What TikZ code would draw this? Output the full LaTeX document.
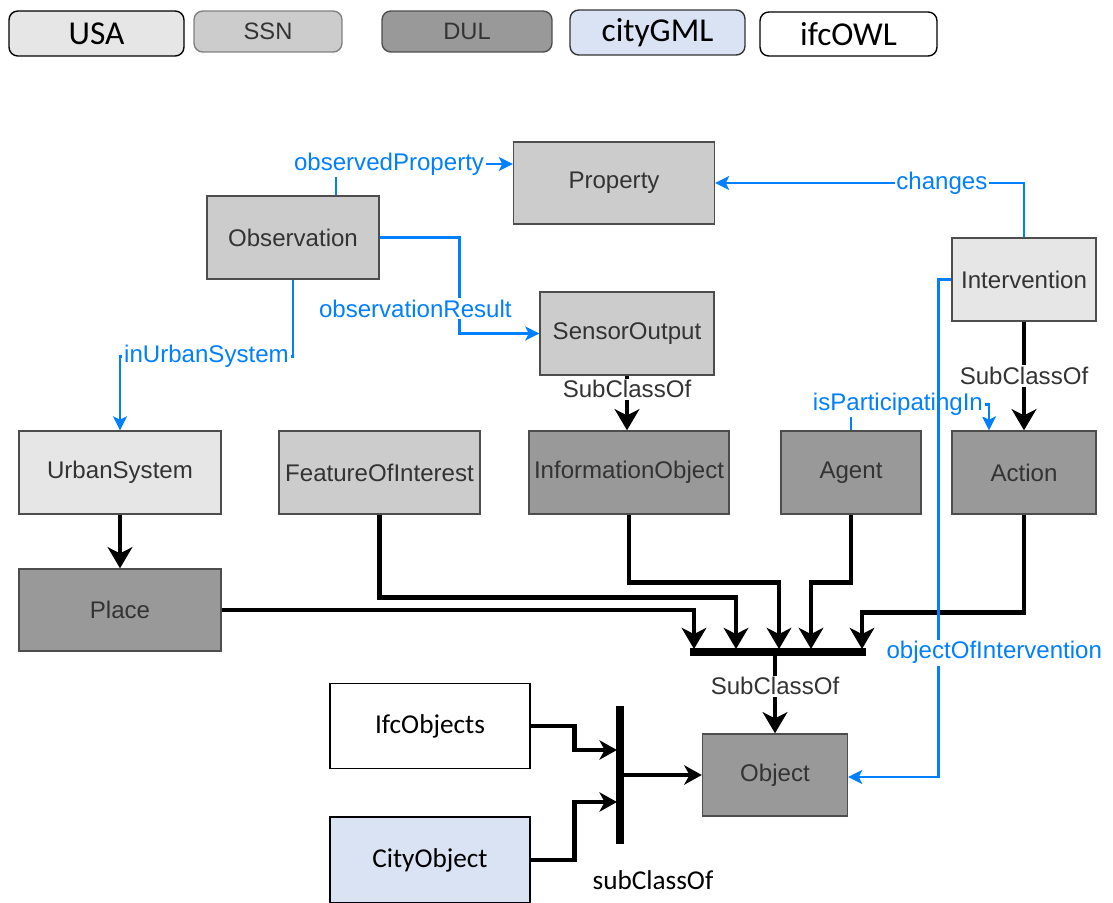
\documentclass[tikz,border=0pt]{standalone}
\usepackage{fontspec}
\setmainfont{Liberation Sans}
\newfontfamily\carlito{Carlito}
\usetikzlibrary{arrows.meta}

\definecolor{relblue}{RGB}{0,127,255}
\definecolor{usafill}{HTML}{E6E6E6}
\definecolor{ssnfill}{HTML}{CCCCCC}
\definecolor{dulfill}{HTML}{999999}
\definecolor{gmlfill}{HTML}{DAE3F3}
\definecolor{boxline}{HTML}{4D4D4D}
\definecolor{boxtext}{HTML}{333333}

\tikzset{
  cls/.style={draw=boxline, line width=0.8pt, text=boxtext, inner sep=0pt,
    minimum height=1.66cm, font=\fontsize{13.7}{16}\selectfont},
  usa/.style={cls, fill=usafill},
  ssn/.style={cls, fill=ssnfill},
  dul/.style={cls, fill=dulfill},
  gml/.style={cls, fill=gmlfill, draw=black, text=black,
    font=\carlito\fontsize{15.5}{18}\selectfont},
  ifc/.style={cls, fill=white, draw=black, text=black,
    font=\carlito\fontsize{15.5}{18}\selectfont},
  key/.style={rounded corners=5pt, line width=0.8pt, inner sep=0pt},
  isa/.style={line width=2.7pt, -{Stealth[length=12pt,width=14pt,inset=3.5pt]}},
  isasmall/.style={line width=2.7pt, -{Stealth[length=10pt,width=11pt,inset=3pt]}},
  rel/.style={relblue, line width=1.4pt, -{Stealth[length=8pt,width=8pt,inset=2pt]}},
  rlab/.style={fill=white, text=relblue, inner sep=1pt, font=\fontsize{13.7}{16}\selectfont},
  ilab/.style={fill=white, text=boxtext, inner sep=1pt, font=\fontsize{13.7}{16}\selectfont}
}

\begin{document}
\begin{tikzpicture}[x=0.02cm, y=-0.02cm]
\useasboundingbox (0,0) rectangle (1113,903);

% legend
\node[key, draw=black, fill=usafill, minimum width=3.5cm, minimum height=0.9cm,
  font=\carlito\fontsize{19}{20}\selectfont] (keyusa) at (96.5,33.5) {USA};
\node[key, draw=gray, fill=ssnfill, minimum width=2.96cm, minimum height=0.82cm,
  text=boxtext, font=\fontsize{13.5}{14}\selectfont] (keyssn) at (268,31.5) {SSN};
\node[key, draw=boxline, fill=dulfill, minimum width=3.4cm, minimum height=0.82cm,
  text=boxtext, font=\fontsize{13.5}{14}\selectfont] (keydul) at (467,31.5) {DUL};
\node[key, draw=boxtext, fill=gmlfill, minimum width=3.5cm, minimum height=0.9cm,
  font=\carlito\fontsize{19}{20}\selectfont] (keygml) at (657.5,32.5) {cityGML};
\node[key, draw=black, fill=white, minimum width=3.54cm, minimum height=0.88cm,
  font=\carlito\fontsize{19}{20}\selectfont] (keyifc) at (848.5,34) {ifcOWL};

% classes
\node[ssn, minimum width=4.02cm, minimum height=1.64cm] (prop) at (614,183) {Property};
\node[ssn, minimum width=3.44cm] (obs) at (293,237.5) {Observation};
\node[ssn, minimum width=3.48cm] (sensor) at (627,333.5) {SensorOutput};
\node[usa, minimum width=2.88cm] (interv) at (1024,279.5) {Intervention};
\node[usa, minimum width=4.04cm] (urban) at (120,472.5) {UrbanSystem};
\node[ssn, minimum width=4.02cm] (feature) at (379.5,472.5) {FeatureOfInterest};
\node[dul, minimum width=4.0cm] (infobj) at (629,472.5) {InformationObject};
\node[dul, minimum width=2.8cm] (agent) at (851,472.5) {Agent};
\node[dul, minimum width=2.88cm] (action) at (1024,472.5) {Action};
\node[dul, minimum width=4.04cm, minimum height=1.64cm] (place) at (120,610) {Place};
\node[dul, minimum width=2.9cm, minimum height=1.64cm] (object) at (775,775) {Object};
\node[ifc, minimum width=4.0cm, minimum height=1.7cm] (ifcobj) at (430,726) {IfcObjects};
\node[gml, minimum width=4.0cm, minimum height=1.72cm] (cityobj) at (430,860) {CityObject};

% subclass links
\draw[isa] (urban) -- (place);
\draw[isa] (sensor.south) -- node[ilab,pos=0.25]{SubClassOf} (sensor.south |- infobj.north);
\draw[isa] (interv) -- node[ilab]{SubClassOf} (action);

\coordinate (in1) at (694,649);
\coordinate (in2) at (736,649);
\coordinate (in3) at (779,649);
\coordinate (in4) at (811,649);
\coordinate (in5) at (862,649);
\coordinate (barw) at (690,652);
\coordinate (bare) at (866,652);
\coordinate (barm) at (775,652);

\draw[isa] (place.east) -| (in1);
\draw[isa] (feature.south) -- ++(0,83) -| (in2);
\draw[isa] (infobj.south) -- ++(0,68) -| (in3);
\draw[isa] (agent.south) -- ++(0,68) -| (in4);
\draw[isa] (action.south) -- ++(0,98) -| (in5);
\draw[line width=4pt] (barw) -- (bare);
\draw[isa] (barm) -- node[ilab,pos=0.42]{SubClassOf} (object.north);

\coordinate (vtop) at (620,706);
\coordinate (vbot) at (620,844);
\coordinate (vmid) at (620,775);
\coordinate (vin1) at (617,750);
\coordinate (vin2) at (617,802);
\draw[line width=4pt] (vtop) -- (vbot);
\draw[isasmall] (ifcobj.east) -- ++(44,0) |- (vin1);
\draw[isasmall] (cityobj.east) -- ++(44,0) |- (vin2);
\draw[isasmall] (vmid) -- (object.west);
\node[font=\carlito\fontsize{15.5}{18}\selectfont] (subcls) at (653,880) {subClassOf};

% properties
\draw[rel] ([xshift=0.86cm]obs.north) |- node[rlab,pos=0.65]{observedProperty} ([yshift=0.38cm]prop.west);
\draw[rel] (obs.east) -| node[rlab,pos=0.87,xshift=-0.88cm]{observationResult} ([xshift=-1.6cm]sensor.west) -- (sensor.west);
\draw[rel] (obs.south) -- ++(0,77) -| node[rlab,pos=0.25]{inUrbanSystem} (urban.north);
\draw[rel] (interv.north) |- node[rlab,pos=0.633]{changes} (prop.east);
\draw[rel] (agent.north) -- ++(0,-26) -| node[rlab,pos=0.17]{isParticipatingIn} ([xshift=-0.7cm]action.north);
\draw[rel] (interv.west) -- ++(-13,0) |- node[rlab,pos=0.375,xshift=1.12cm]{objectOfIntervention} ([yshift=-0.04cm]object.east);
\end{tikzpicture}
\end{document}
